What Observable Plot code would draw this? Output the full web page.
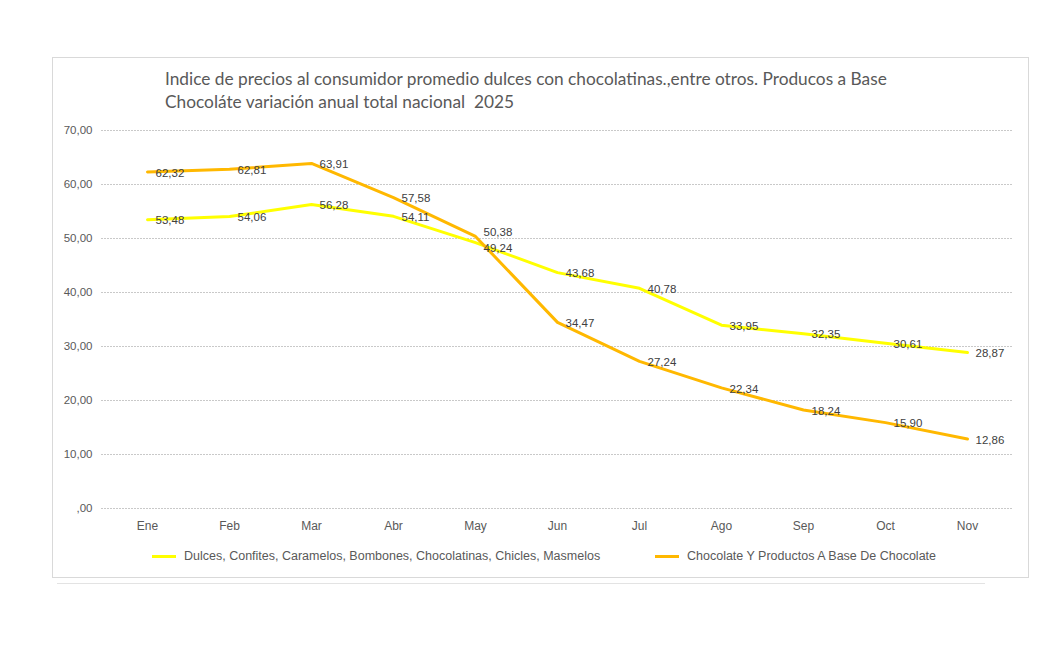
<!DOCTYPE html>
<html>
<head>
<meta charset="utf-8">
<script src="https://cdn.jsdelivr.net/npm/d3@7"></script>
<script src="https://cdn.jsdelivr.net/npm/@observablehq/plot@0.6"></script>
<style>
  body { margin: 0; background: #fff; }
  #wrap { position: relative; width: 1053px; height: 645px; overflow: hidden; font-family: "Liberation Sans", Arial, sans-serif; }
  #frame { position: absolute; left: 52px; top: 57px; width: 975px; height: 519px; border: 1px solid #d9d9d9; }
  #frame2 { position: absolute; left: 57px; top: 583px; width: 928px; height: 0; border-top: 1px solid #e3e3e3; }
  #title { position: absolute; left: 165px; top: 67px; font-family: Lato, "Noto Sans", sans-serif; font-size: 17.3px; line-height: 23px; color: #595959; white-space: nowrap; }
  #chart { position: absolute; left: 0; top: 0; }
  #legend { position: absolute; top: 549px; left: 0; width: 1053px; font-size: 12.5px; color: #595959; white-space: nowrap; }
  .item { position: absolute; display: flex; align-items: center; }
  .sw { width: 24px; height: 3px; margin-right: 8px; }
</style>
</head>
<body>
<div id="wrap">
  <div id="frame"></div>
  <div id="frame2"></div>
  <div id="chart"></div>
  <div id="title">Indice de precios al consumidor promedio dulces con chocolatinas.,entre otros. Producos a Base<br>Chocoláte variación anual total nacional&nbsp; 2025</div>
  <div id="legend"></div>
</div>
<script>
const months = ["Ene","Feb","Mar","Abr","May","Jun","Jul","Ago","Sep","Oct","Nov"];
const seriesNames = ["Dulces, Confites, Caramelos, Bombones, Chocolatinas, Chicles, Masmelos", "Chocolate Y Productos A Base De Chocolate"];
const dulces = [53.48, 54.06, 56.28, 54.11, 49.24, 43.68, 40.78, 33.95, 32.35, 30.61, 28.87];
const chocolate = [62.32, 62.81, 63.91, 57.58, 50.38, 34.47, 27.24, 22.34, 18.24, 15.90, 12.86];
const yTicks = [0, 10, 20, 30, 40, 50, 60, 70];
const colors = ["#FFFF00", "#FFB800"];

const fmt = v => v === 0 ? ",00" : v.toFixed(2).replace(".", ",");
const rows = [];
[dulces, chocolate].forEach((arr, si) => arr.forEach((v, i) => rows.push({month: months[i], value: v, series: seriesNames[si], si})));

// nudge the two close labels in May apart slightly
const labelDy = d => d.month === "May" ? (d.si === 1 ? -4 : 6) : 1;

const chart = Plot.plot({
  width: 1053,
  height: 645,
  marginLeft: 101,
  marginRight: 41,
  marginTop: 130,
  marginBottom: 137,
  style: {fontFamily: "'Liberation Sans', Arial, sans-serif", fontSize: "11.5px", color: "#595959", background: "transparent"},
  x: {type: "point", domain: months, padding: 0.52, label: null},
  y: {domain: [0, 70], label: null},
  color: {domain: seriesNames, range: colors},
  marks: [
    Plot.ruleY(yTicks, {stroke: "#c9c9c9", strokeDasharray: "2,1", strokeWidth: 1}),
    Plot.axisY({ticks: yTicks, tickFormat: fmt, tickSize: 0, tickPadding: 9, fontSize: 11.5, fill: "#595959"}),
    Plot.axisX({tickSize: 0, tickPadding: 13, fontSize: 12, fill: "#595959"}),
    Plot.line(rows, {x: "month", y: "value", z: "series", stroke: "series", strokeWidth: 3}),
    Plot.text(rows.filter(d => d.month !== "May"), {x: "month", y: "value", text: d => fmt(d.value), textAnchor: "start", dx: 8, dy: 1, fill: "#404040", fontSize: 11.5}),
    Plot.text(rows.filter(d => d.month === "May" && d.si === 1), {x: "month", y: "value", text: d => fmt(d.value), textAnchor: "start", dx: 8, dy: -4, fill: "#404040", fontSize: 11.5}),
    Plot.text(rows.filter(d => d.month === "May" && d.si === 0), {x: "month", y: "value", text: d => fmt(d.value), textAnchor: "start", dx: 8, dy: 6, fill: "#404040", fontSize: 11.5})
  ]
});
document.getElementById("chart").appendChild(chart);

const legend = document.getElementById("legend");
const lefts = [152, 655];
seriesNames.forEach((n, i) => {
  const it = document.createElement("div");
  it.className = "item";
  it.style.left = lefts[i] + "px";
  it.innerHTML = `<span class="sw" style="background:${colors[i]}"></span><span>${n}</span>`;
  legend.appendChild(it);
});
</script>
</body>
</html>
